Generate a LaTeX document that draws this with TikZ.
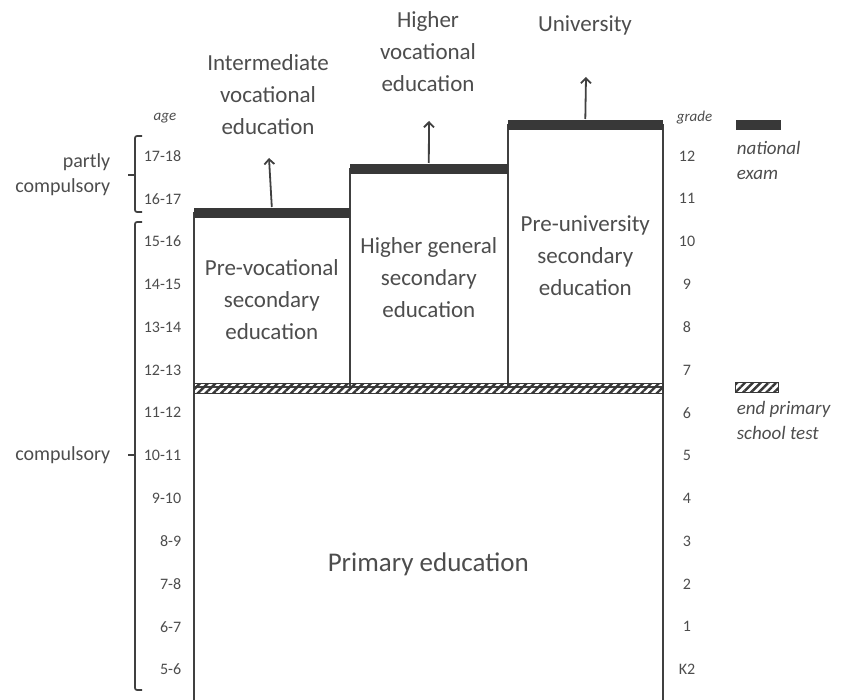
\documentclass[tikz,border=0pt]{standalone}
\usepackage{fontspec}
\setmainfont{Carlito}
\usetikzlibrary{arrows.meta, positioning, patterns.meta}
\definecolor{txtgrey}{HTML}{4D4D4D}
\definecolor{linegrey}{HTML}{404040}
\definecolor{examgrey}{HTML}{383838}
\def\rowsep{42.8}

\begin{document}
\begin{tikzpicture}[x=1pt,y=-1pt,line width=1.6pt,draw=linegrey,text=txtgrey,inner sep=0pt]
    \tikzstyle{school}=[draw=linegrey, anchor=north west, align=center, font=\fontsize{23}{32}\selectfont]
    \tikzstyle{exam}=[fill=examgrey, anchor=north west, minimum height=10]
    \tikzstyle{test}=[draw=examgrey, line width=1pt, anchor=north west, minimum height=10,
        pattern={Lines[angle=45,distance=5.5pt,line width=2.4pt]}, pattern color=examgrey]
    \tikzstyle{annot}=[align=center, font=\fontsize{23}{32}\selectfont]
    \tikzstyle{age}=[font=\fontsize{16}{18}\selectfont]
    \tikzstyle{side}=[align=right, anchor=east, font=\fontsize{20}{25}\selectfont]
    \tikzstyle{legend}=[align=left, anchor=west, font=\itshape\fontsize{19}{25}\selectfont]
    \tikzstyle{bracket}=[line width=1.7pt, rounded corners=2pt]

    \useasboundingbox (0,0) rectangle (842,700);

    % Draw the school types
    \node[school, minimum width=469, minimum height=354, font=\fontsize{27}{32}\selectfont] (P) at (193,386) {Primary education};
    \node[school, minimum width=156, minimum height=174] (S-1) at (193,212) {Pre-vocational\\secondary\\education};
    \node[school, minimum width=158, minimum height=218] (S-2) at (349,168) {Higher general\\secondary\\education};
    \node[school, minimum width=155, minimum height=262] (S-3) at (507,124) {Pre-university\\secondary\\education};

    % national exams and end primary school test
    \node[exam, minimum width=156] (E-1) at (193,207) {};
    \node[exam, minimum width=158] (E-2) at (349,163) {};
    \node[exam, minimum width=155] (E-3) at (507,119) {};
    \node[test, minimum width=469] (T) at (193,382) {};

    % Follow-up education
    \node[annot] (F-1) at (268,95) {Intermediate\\vocational\\education};
    \node[annot] (F-2) at (428,52) {Higher\\vocational\\education};
    \node[annot] (F-3) at (585,25) {University};
    \coordinate (A-1) at (269,158);
    \coordinate (A-2) at (429,121);
    \coordinate (A-3) at (586,77);
    \foreach \i in {1,...,3}
        \draw[-{Straight Barb[length=5pt,width=10pt]}, line width=1.8pt] (E-\i.north) -- (A-\i);

    % Age and grade columns
    \node[age, font=\itshape\fontsize{15}{18}\selectfont] (age) at (165,118) {age};
    \node[age, font=\itshape\fontsize{15}{18}\selectfont, anchor=west] (grade) at (676,118) {grade};
    \foreach \age/\grade [count=\i] in {17-18/12,16-17/11,15-16/10,14-15/9,13-14/8,12-13/7,11-12/6,10-11/5,9-10/4,8-9/3,7-8/2,6-7/1,5-6/K2}{
        \node[age, anchor=east] (age-\i) at (182,{156+(\i-1)*\rowsep}) {\age};
        \node[age] (grade-\i) at (687,{156+(\i-1)*\rowsep}) {\grade};
    }

    % Compulsory brackets
    \draw[bracket] (142,136) -- (135,136) -- (135,212) -- (142,212);
    \draw[bracket] (135,175) -- (128,175);
    \draw[bracket] (142,222) -- (135,222) -- (135,690) -- (142,690);
    \draw[bracket] (135,455) -- (128,455);
    \node[side] (pc) at (111,175) {partly\\compulsory};
    \node[side] (c) at (111,455) {compulsory};

    % Legend
    \node[exam, minimum width=45] (LE) at (735,119) {};
    \node[legend] (LE-t) at (736,160) {national\\exam};
    \node[test, minimum width=43] (LT) at (735,382) {};
    \node[legend] (LT-t) at (736,420) {end primary\\school test};
\end{tikzpicture}
\end{document}
